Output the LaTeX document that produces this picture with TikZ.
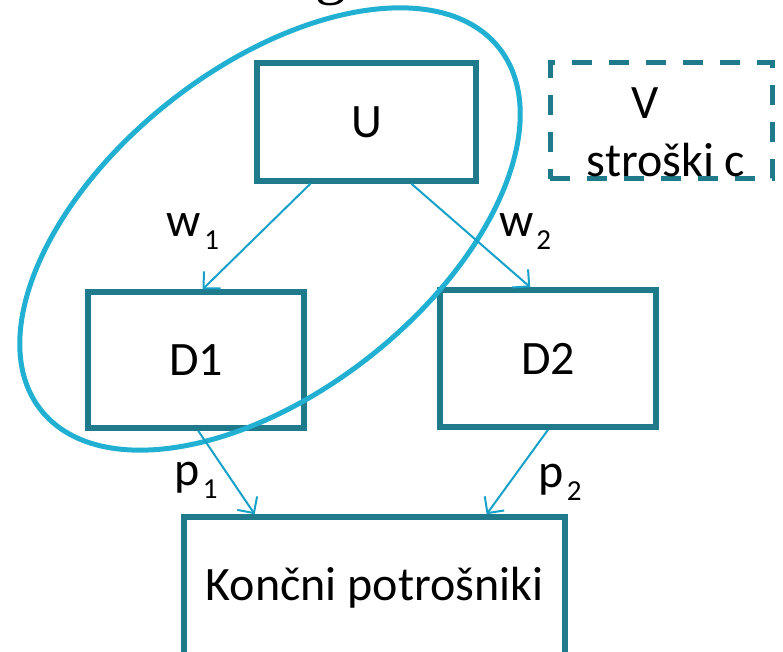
\documentclass[tikz,border=0pt]{standalone}
\usepackage{fontspec}
\setmainfont{Carlito}
\newfontfamily\titlefont{Liberation Serif}
\usetikzlibrary{arrows.meta,calc}
\definecolor{boxcol}{RGB}{31,122,140}
\definecolor{ringcol}{RGB}{33,176,210}
\definecolor{arrcol}{RGB}{23,160,200}
\newcommand{\lowidx}[1]{\hspace{3pt}\raisebox{-13pt}{\fontsize{29}{30}\selectfont #1}}
\tikzset{
  firm/.style={draw=boxcol, line width=5.5pt, minimum width=#1, inner sep=0pt},
  dashbox/.style={draw=boxcol, line width=5pt, dash pattern=on 20pt off 17pt, minimum width=222pt, minimum height=116pt},
  flow/.style={draw=arrcol, line width=2pt, -{Straight Barb[length=12pt,width=24pt,line width=2pt]}},
  lab/.style={inner sep=0pt, font=\fontsize{48}{58}\selectfont}
}
\begin{document}
\begin{tikzpicture}[x=1pt, y=-1pt, font=\fontsize{48}{58}\selectfont]
    \useasboundingbox (0,0) rectangle (783,652);
    \node (title) [anchor=base, font=\titlefont\fontsize{62}{70}\selectfont] at (331,-7) {g};
    \node (u) [firm=219pt, minimum height=118pt] at (366.5,122) {U};
    \node (d1) [firm=216pt, minimum height=136pt] at (196,360) {D1};
    \node (d2) [firm=216pt, minimum height=137pt] at (548,358.5) {D2};
    \node (kon) [firm=381pt, minimum height=146pt] at (374.5,590) {};
    \node (kontxt) at (374.5,588) {Končni potrošniki};
    \node (v) [dashbox] at (661,121) {};
    \node (vtop) at (645,103) {V};
    \node (vcost) at (666,160) {stroški c};
    \draw[ringcol, line width=5pt, rotate around={38.3:(270,229)}] (270,229) ellipse [x radius=292, y radius=162];
    \draw[flow] ($(u.south west)!0.25!(u.south east)$) -- ($(d1.north west)!0.53!(d1.north east)$);
    \draw[flow] ($(u.south west)!0.70!(u.south east)$) -- ($(d2.north west)!0.42!(d2.north east)$);
    \draw[flow] ($(d1.south west)!0.51!(d1.south east)$) -- ($(kon.north west)!0.19!(kon.north east)$);
    \draw[flow] ($(d2.south west)!0.50!(d2.south east)$) -- ($(kon.north west)!0.79!(kon.north east)$);
    \node (w1) [lab] at (193,232) {w\lowidx{1}};
    \node (w2) [lab] at (525,232) {w\lowidx{2}};
    \node (p1) [lab] at (196,480) {p\lowidx{1}};
    \node (p2) [lab] at (560,482) {p\lowidx{2}};
\end{tikzpicture}
\end{document}
